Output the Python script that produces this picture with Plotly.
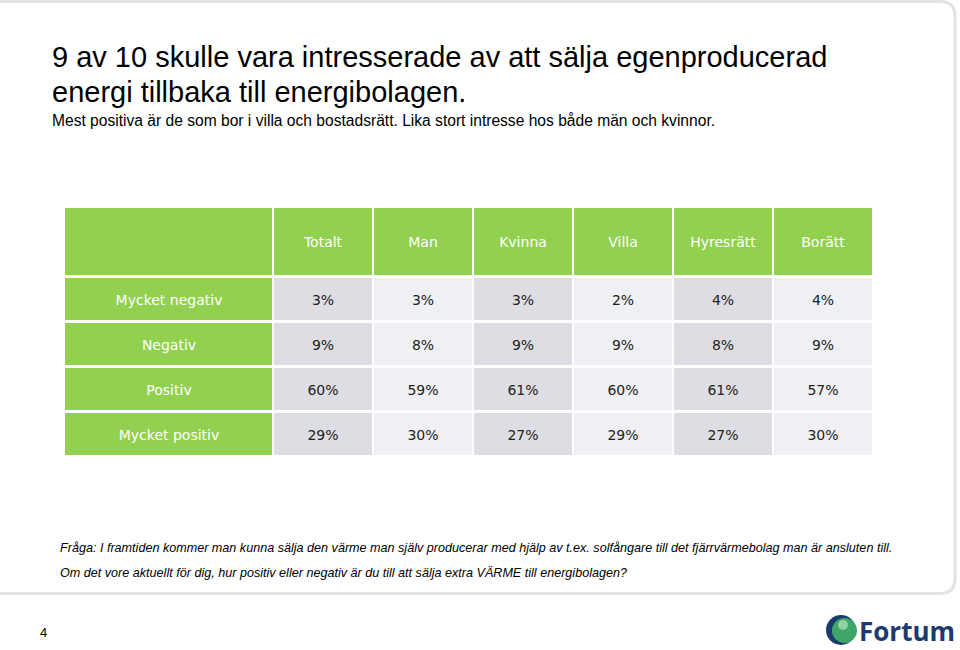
import plotly.graph_objects as go
import numpy as np

# ---- data ----
col_labels = ["Totalt", "Man", "Kvinna", "Villa", "Hyresrätt", "Borätt"]
row_labels = ["Mycket negativ", "Negativ", "Positiv", "Mycket positiv"]
mycket_negativ = [3, 3, 3, 2, 4, 4]
negativ = [9, 8, 9, 9, 8, 9]
positiv = [60, 59, 61, 60, 61, 57]
mycket_positiv = [29, 30, 27, 29, 27, 30]
values = [mycket_negativ, negativ, positiv, mycket_positiv]

title1 = "9 av 10 skulle vara intresserade av att sälja egenproducerad"
title2 = "energi tillbaka till energibolagen."
subtitle = "Mest positiva är de som bor i villa och bostadsrätt. Lika stort intresse hos både män och kvinnor."
note1 = "Fråga: I framtiden kommer man kunna sälja den värme man själv producerar med hjälp av t.ex. solfångare till det fjärrvärmebolag man är ansluten till."
note2 = "Om det vore aktuellt för dig, hur positiv eller negativ är du till att sälja extra VÄRME till energibolagen?"
page_no = "4"
logo_text = "Fortum"

# ---- layout / style constants ----
W, H = 960, 650
first_col_w, col_w = 209, 100
header_h, row_h = 70, 45
GREEN = "#92D050"
GRAY_DARK = "#DDDEE3"
GRAY_LIGHT = "#EFF0F3"
FONT_TBL = "DejaVu Sans, Verdana, sans-serif"
FONT_TXT = "Liberation Sans, Arial, sans-serif"

ncol = len(col_labels) + 1
nrow = len(row_labels) + 1
x_edges = np.concatenate([[0], np.cumsum([first_col_w] + [col_w] * len(col_labels))])
y_edges = np.concatenate([[0], np.cumsum([header_h] + [row_h] * len(row_labels))])

# green cells: header row + first column
zg = np.full((nrow, ncol), np.nan)
tg = [["" for _ in range(ncol)] for _ in range(nrow)]
zg[0, :] = 1
zg[:, 0] = 1
for j, c in enumerate(col_labels):
    tg[0][j + 1] = c
for i, r in enumerate(row_labels):
    tg[i + 1][0] = r

# gray value cells
zv = np.full((nrow, ncol), np.nan)
tv = [["" for _ in range(ncol)] for _ in range(nrow)]
for i, row in enumerate(values):
    for j, v in enumerate(row):
        zv[i + 1, j + 1] = j % 2
        tv[i + 1][j + 1] = f"{v}%"

fig = go.Figure()
fig.add_trace(go.Heatmap(
    z=zg, x=x_edges, y=y_edges, text=tg, texttemplate="%{text}",
    textfont=dict(family=FONT_TBL, size=14, color="white"),
    colorscale=[[0, GREEN], [1, GREEN]], zmin=0, zmax=1, showscale=False,
    xgap=2, ygap=3, hoverinfo="skip"))
fig.add_trace(go.Heatmap(
    z=zv, x=x_edges, y=y_edges, text=tv, texttemplate="%{text}",
    textfont=dict(family=FONT_TBL, size=14, color="#222222"),
    colorscale=[[0, GRAY_DARK], [1, GRAY_LIGHT]], zmin=0, zmax=1, showscale=False,
    xgap=2, ygap=3, hoverinfo="skip"))

tbl_left, tbl_top = 64, 207
tbl_w, tbl_h = x_edges[-1], y_edges[-1]
fig.update_xaxes(domain=[tbl_left / W, (tbl_left + tbl_w) / W], range=[0, tbl_w],
                 visible=False, fixedrange=True)
fig.update_yaxes(domain=[1 - (tbl_top + tbl_h) / H, 1 - tbl_top / H], range=[tbl_h, 0],
                 visible=False, fixedrange=True)

anns = []
def txt(text, x, y, size, family=FONT_TXT, color="black",
        xanchor="left", yanchor="middle", **kw):
    anns.append(dict(text=text, x=x / W, y=1 - y / H, xref="paper", yref="paper",
                     xanchor=xanchor, yanchor=yanchor, showarrow=False,
                     font=dict(size=size, family=family, color=color), **kw))

txt(title1, 50, 57, 29)
txt(title2, 50, 92, 29)
txt(subtitle, 50, 121, 15.6)
txt("<i>" + note1 + "</i>", 58, 548, 12.6)
txt("<i>" + note2 + "</i>", 58, 573, 12.6)
txt(page_no, 38, 632, 13)
txt("<b>" + logo_text + "</b>", 957, 631, 26, family="Open Sans, sans-serif", color="#1B3B6F",
    xanchor="right")

top_y, bot_y, right_x, rad = 1.5, 593.5, 955, 15
shapes = [
    # slide frame (rounded rect, left edge off-screen)
    dict(type="path", xref="paper", yref="paper", layer="below",
         path=f"M -0.05 {1-top_y/H} L {(right_x-rad)/W} {1-top_y/H} "
              f"Q {right_x/W} {1-top_y/H} {right_x/W} {1-(top_y+rad)/H} "
              f"L {right_x/W} {1-(bot_y-rad)/H} Q {right_x/W} {1-bot_y/H} {(right_x-rad)/W} {1-bot_y/H} "
              f"L -0.05 {1-bot_y/H}",
         line=dict(color="#E2E2E2", width=3)),
    # logo sphere
    dict(type="circle", xref="paper", yref="paper",
         x0=826 / W, x1=856 / W, y0=1 - 645 / H, y1=1 - 615 / H,
         fillcolor="#1B3B6F", line=dict(width=0)),
    dict(type="circle", xref="paper", yref="paper",
         x0=832 / W, x1=857 / W, y0=1 - 643 / H, y1=1 - 618 / H,
         fillcolor="#3FA66A", line=dict(width=0)),
    dict(type="circle", xref="paper", yref="paper",
         x0=838 / W, x1=848 / W, y0=1 - 630 / H, y1=1 - 620 / H,
         fillcolor="#8FD3A0", line=dict(width=0)),
]

fig.update_layout(width=W, height=H, margin=dict(l=0, r=0, t=0, b=0),
                  paper_bgcolor="white", plot_bgcolor="white",
                  annotations=anns, shapes=shapes, showlegend=False)
fig.write_html("out.html", config=dict(displayModeBar=False),
               post_script="document.body.style.margin='0';document.body.style.overflow='hidden';")
